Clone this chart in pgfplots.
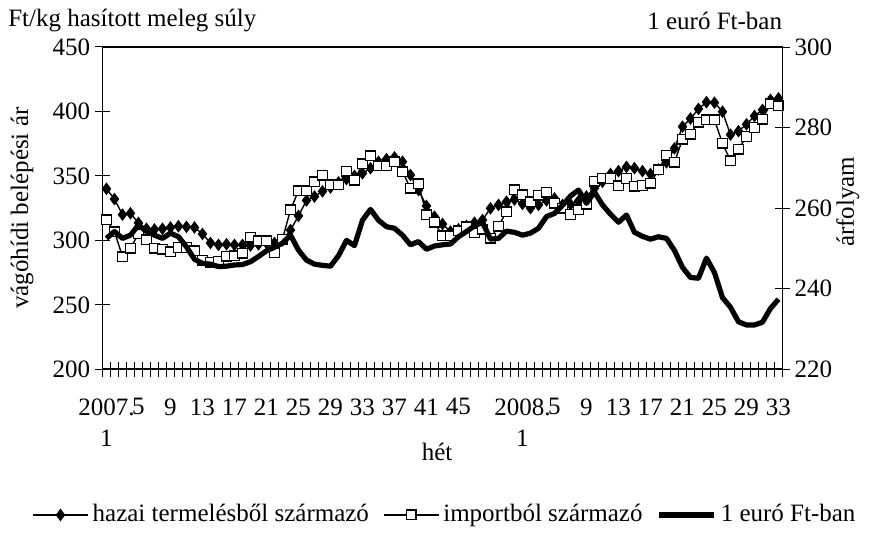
\documentclass[border=0pt]{standalone}
\usepackage{fontspec}
\setmainfont{Liberation Serif}
\usepackage{pgfplots}
\usepackage{pgfplotstable}
\pgfplotsset{compat=1.18}

% hét (1..52 = 2007, 53..85 = 2008), hazai Ft/kg, import Ft/kg, EUR/HUF
\pgfplotstableread{
w  hazai  import  euro
1  340    316     252.5
2  332    306.8   254.2
3  320    287.4   252.5
4  321    293.9   253.3
5  313.5  305     255.8
6  309    300.3   254.2
7  308.5  293.9   253.3
8  309    293.2   252.5
9  310    291.2   253.8
10 311    294.5   252.9
11 310.5  294.5   250.4
12 310    292     247.3
13 305    284.5   246.3
14 298    283     246.1
15 296.5  284     245.5
16 297    287.6   245.6
17 296.5  287.9   245.9
18 296.5  290     246
19 296    302.4   246.7
20 297    299.8   248
21 298    299.8   249.4
22 298    290.5   250.3
23 300    301     251.3
24 308    323.6   253.3
25 319    338.6   249.6
26 331    338.6   247.1
27 334    345.5   246.1
28 338    350.7   245.8
29 341    343     245.6
30 345    343     248.2
31 347.5  353.7   252
32 350    346.6   250.7
33 352    359.3   257
34 356    365.5   259.7
35 361    357.7   257
36 363    357.7   255.4
37 364.4  361     255
38 361    353.3   253.3
39 350.7  340.4   250.9
40 339    344     251.7
41 326.7  319.7   249.8
42 318.4  314     250.6
43 312.7  303.4   250.9
44 306.8  303.4   251.1
45 308.6  307.5   252.9
46 311.2  310.6   254.2
47 313.7  306     255.6
48 315.8  308.6   256.5
49 324.9  301.6   252.3
50 327.5  311     252.5
51 330    322.3   254.3
52 331.6  339.1   254
53 328.3  335.5   253.3
54 325    330     253.8
55 327.5  335     255
56 331    337.5   257.9
57 332.5  328.8   258.7
58 327.5  325     260.7
59 328    320     263
60 330.5  323.6   264.5
61 334    328     261.2
62 340.5  346     264
63 345.5  348.2   260.8
64 351.5  348     258.5
65 353.7  342.2   256.5
66 357    348     258.3
67 356    342     254
68 353.7  342.6   253
69 351.5  344.3   252.3
70 355    354.6   252.9
71 360.5  366.2   252.5
72 371.4  360.6   249.5
73 388.2  378.4   245.3
74 394.5  382.5   242.8
75 402    391.7   242.6
76 407.2  393.4   247.6
77 406.8  393.4   244
78 399.8  375.3   237.8
79 382    361.8   235.4
80 384.7  370.7   231.8
81 390    380.5   231
82 396.5  387.5   231
83 401.2  394     231.7
84 409    406     235.1
85 410.2  404.3   237.4
}\prices

\begin{document}
\fontsize{12.5}{15}\selectfont
\begin{tikzpicture}
\pgfplotsset{
  every axis/.append style={
    scale only axis, width=340pt, height=161.15pt,
    xmin=0.5, xmax=85.5,
    clip=false,
    font=\fontsize{12.5}{15}\selectfont,
    /pgf/number format/assume math mode=true,
    tick align=center,
    major tick length=7.5pt, minor tick length=7.5pt,
    every tick/.style={black, line width=0.5pt},
    axis line style={line width=0.9pt},
  },
}
\begin{axis}[
  ymin=200, ymax=450, ytick={200,250,300,350,400,450},
  ytick pos=left, xtick pos=bottom,
  xtick={1,5,9,13,17,21,25,29,33,37,41,45,53,57,61,65,69,73,77,81,85},
  xticklabels={{2007.\\1},5,9,13,17,21,25,29,33,37,41,45,{2008.\\1},5,9,13,17,21,25,29,33},
  xticklabel style={align=center, anchor=north, yshift=-6.5pt, font=\fontsize{12.5}{15.5}\selectfont},
  major x tick style={draw=none},
  minor xtick={0.5,1.5,...,85.5},
  yticklabel style={xshift=2pt},
  xlabel={hét},
  ylabel={vágóhídi belépési ár},
  every axis x label/.style={at={(axis description cs:0.492,-0.2566)}, anchor=center},
  every axis y label/.style={at={(axis description cs:-0.118,0.5)}, anchor=center, rotate=90},
  legend columns=3,
  legend cell align=left,
  legend style={at={(0.505,-0.452)}, anchor=center, draw=none, fill=none,
    font=\fontsize{12.5}{15}\selectfont,
    /tikz/every even column/.append style={column sep=5pt}},
  legend image code/.code={\draw[mark repeat=2,mark phase=2] plot coordinates {(0pt,0pt) (13.75pt,0pt) (27.5pt,0pt)};},
]
\path (rel axis cs:-0.1507,1.1458) rectangle (rel axis cs:1.139,-0.5172);
\node[anchor=west, inner sep=0pt] at (rel axis cs:-0.139,1.081) {Ft/kg hasított meleg súly};
\node[anchor=east, inner sep=0pt] at (rel axis cs:1,1.081) {1 euró Ft-ban};
\addplot[black, line width=0.7pt, mark=diamond*, mark size=2.6pt,
  mark options={fill=black, solid}] table[x=w, y=hazai] {\prices};
\addlegendentry{hazai termelésből származó}
\addplot[black, line width=0.7pt, mark=square*, mark size=2.4pt,
  mark options={fill=white, solid}] table[x=w, y=import] {\prices};
\addlegendentry{importból származó}
\addlegendimage{black, line width=2.6pt}
\addlegendentry{1 euró Ft-ban}
\end{axis}
\begin{axis}[
  ymin=220, ymax=300, ytick={220,240,260,280,300},
  axis y line*=right, axis x line=none,
  yticklabel style={xshift=-2pt},
  ylabel={árfolyam},
  every axis y label/.style={at={(axis description cs:1.096,0.52)}, anchor=center, rotate=90},
]
\addplot[black, line width=2.6pt, line join=round, no markers] table[x=w, y=euro] {\prices};
\end{axis}
\end{tikzpicture}
\end{document}
